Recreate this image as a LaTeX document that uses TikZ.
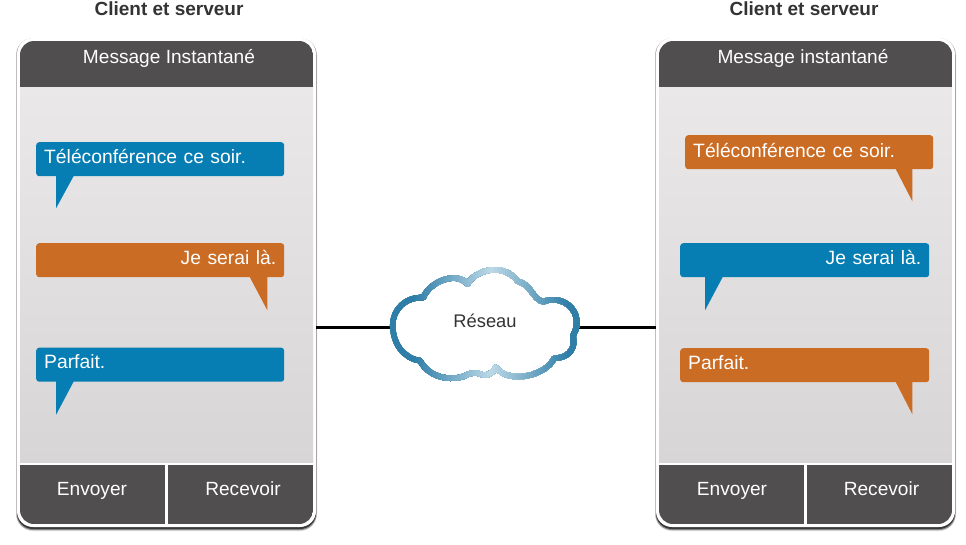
\documentclass[tikz,border=0pt]{standalone}
\usepackage{fontspec}
\setmainfont{Liberation Sans}
\definecolor{panel}{HTML}{504E4F}
\definecolor{bluebub}{HTML}{067DB3}
\definecolor{orangebub}{HTML}{CB6C25}
\definecolor{bodytop}{HTML}{EAE8E9}
\definecolor{bodybot}{HTML}{D7D5D6}
\definecolor{cloudedge}{HTML}{2F7EA8}
\definecolor{cloudlight}{HTML}{BCD8E6}
\definecolor{inkdark}{HTML}{333333}
\tikzset{
  ptext/.style={anchor=base,font=\fontsize{19.1}{22}\selectfont,text=white,inner sep=0pt},
  titletext/.style={anchor=base,font=\fontsize{19}{22}\selectfont\bfseries,text=inkdark,inner sep=0pt},
  frame/.style={draw=none,fill=white,rounded corners=16pt,minimum width=299pt,minimum height=489pt,inner sep=0pt},
  bubble/.style={anchor=north west,rounded corners=3pt,minimum width=248pt,text width=232pt,inner xsep=8pt,inner ysep=7pt,text height=14pt,text depth=6pt,font=\fontsize{19.3}{22}\selectfont,text=white},
  bluefill/.style={fill=bluebub},
  orangefill/.style={fill=orangebub},
  link/.style={draw=black,line width=3pt},
}
\newcommand{\phoneshape}[6]{%
  % #1 name, #2 inner left x, #3 header text, #4 header x, #5 envoyer x, #6 recevoir x
  \fill[black,opacity=.15,rounded corners=17pt] (#2-4,38) rectangle (#2+297,531);
  \fill[black,opacity=.35,rounded corners=16pt] (#2-3.5,38.5) rectangle (#2+296.5,530);
  \fill[black,opacity=.6,rounded corners=16pt] (#2-3,39) rectangle (#2+296,529);
  \node[frame] (#1) at (#2+146.5,282.5) {};
  \begin{scope}
    \clip[rounded corners=14pt] (#2,41) rectangle (#2+293,524);
    \fill[panel] (#2,41) rectangle (#2+293,87);
    \shade[shading angle=160,top color=bodytop,bottom color=bodybot] (#2,87) rectangle (#2+293,462);
    \fill[panel] (#2,465) rectangle (#2+145,524);
    \fill[panel] (#2+148,465) rectangle (#2+293,524);
  \end{scope}
  \node[ptext] (#1head) at (#4,63.5) {#3};
  \node[ptext] (#1send) at (#5,495) {Envoyer};
  \node[ptext] (#1recv) at (#6,495) {Recevoir};
}
\begin{document}
\begin{tikzpicture}[x=1pt,y=-1pt]
\useasboundingbox (0,0) rectangle (966,544);
\fill[white] (0,0) rectangle (966,544);

\node[titletext] (titleL) at (169,15) {Client et serveur};
\node[titletext] (titleR) at (804,15) {Client et serveur};

\phoneshape{phoneL}{20}{Message Instantané}{169}{92}{243}
\phoneshape{phoneR}{659}{Message instantané}{803}{732}{881.5}

% left bubbles
\node[bubble,bluefill] (lb1) at (36,142) {Téléconférence ce soir.};
\fill[bluebub] ([xshift=20pt,yshift=1pt]lb1.south west) -- ([xshift=20pt,yshift=-32pt]lb1.south west) -- ([xshift=38pt,yshift=1pt]lb1.south west) -- cycle;
\node[bubble,orangefill,align=right] (lb2) at (36,243) {Je serai là.};
\fill[orangebub] ([xshift=-35pt,yshift=1pt]lb2.south east) -- ([xshift=-17pt,yshift=-33pt]lb2.south east) -- ([xshift=-17pt,yshift=1pt]lb2.south east) -- cycle;
\node[bubble,bluefill] (lb3) at (36,347.5) {Parfait.};
\fill[bluebub] ([xshift=20pt,yshift=1pt]lb3.south west) -- ([xshift=20pt,yshift=-33pt]lb3.south west) -- ([xshift=38pt,yshift=1pt]lb3.south west) -- cycle;

% right bubbles
\node[bubble,orangefill,text depth=5pt,text height=15pt] (rb1) at (685,135) {Téléconférence ce soir.};
\fill[orangebub] ([xshift=-38pt,yshift=1pt]rb1.south east) -- ([xshift=-21pt,yshift=-32pt]rb1.south east) -- ([xshift=-21pt,yshift=1pt]rb1.south east) -- cycle;
\node[bubble,bluefill,align=right,minimum width=249pt,text width=233pt] (rb2) at (680,243) {Je serai là.};
\fill[bluebub] ([xshift=25pt,yshift=1pt]rb2.south west) -- ([xshift=25pt,yshift=-33pt]rb2.south west) -- ([xshift=43pt,yshift=1pt]rb2.south west) -- cycle;
\node[bubble,orangefill,minimum width=249pt,text width=233pt] (rb3) at (680,348) {Parfait.};
\fill[orangebub] ([xshift=-34pt,yshift=1pt]rb3.south east) -- ([xshift=-17pt,yshift=-32pt]rb3.south east) -- ([xshift=-17pt,yshift=1pt]rb3.south east) -- cycle;

% connectors
\coordinate (cloudW) at (392,327);
\coordinate (cloudE) at (576,327);
\coordinate (portL) at (phoneL.east |- cloudW);
\coordinate (portR) at (phoneR.west |- cloudE);
\draw[link] (portL) -- (cloudW);
\draw[link] (cloudE) -- (portR);

% cloud: white body, then the outline in overlapping vertical bands for its gradient
\begin{scope}[shift={(370pt,-250pt)},x=.33333pt,y=-.33333pt]
  \def\cloudpath{(68,225)
    .. controls (68,180) and (105,140) .. (160,143)
    .. controls (175,100) and (255,60) .. (293,102)
    .. controls (315,60) and (400,35) .. (445,95)
    .. controls (480,100) and (490,150) .. (520,155)
    .. controls (570,135) and (625,170) .. (620,225)
    .. controls (620,245) and (605,250) .. (610,270)
    .. controls (615,300) and (590,325) .. (552,325)
    .. controls (530,375) and (420,405) .. (377,352)
    .. controls (365,375) and (345,380) .. (330,372)
    .. controls (320,365) and (305,370) .. (295,372)
    .. controls (260,395) and (180,390) .. (150,332)
    .. controls (100,325) and (68,280) .. (68,225) -- cycle}
  \fill[white] \cloudpath;
  \foreach \bx in {40,46,...,660}{
    \pgfmathtruncatemacro{\pct}{min(100,abs(\bx-360)/2.3)}
    \begin{scope}
      \clip (\bx,0) rectangle (700,420);
      \draw[cloudedge!\pct!cloudlight,line width=5.5pt,line join=round] \cloudpath;
    \end{scope}
  }
\end{scope}
\node[anchor=base,font=\fontsize{18.3}{20}\selectfont,text=inkdark,inner sep=0pt] (reseau) at (485,327) {Réseau};
\end{tikzpicture}
\end{document}
